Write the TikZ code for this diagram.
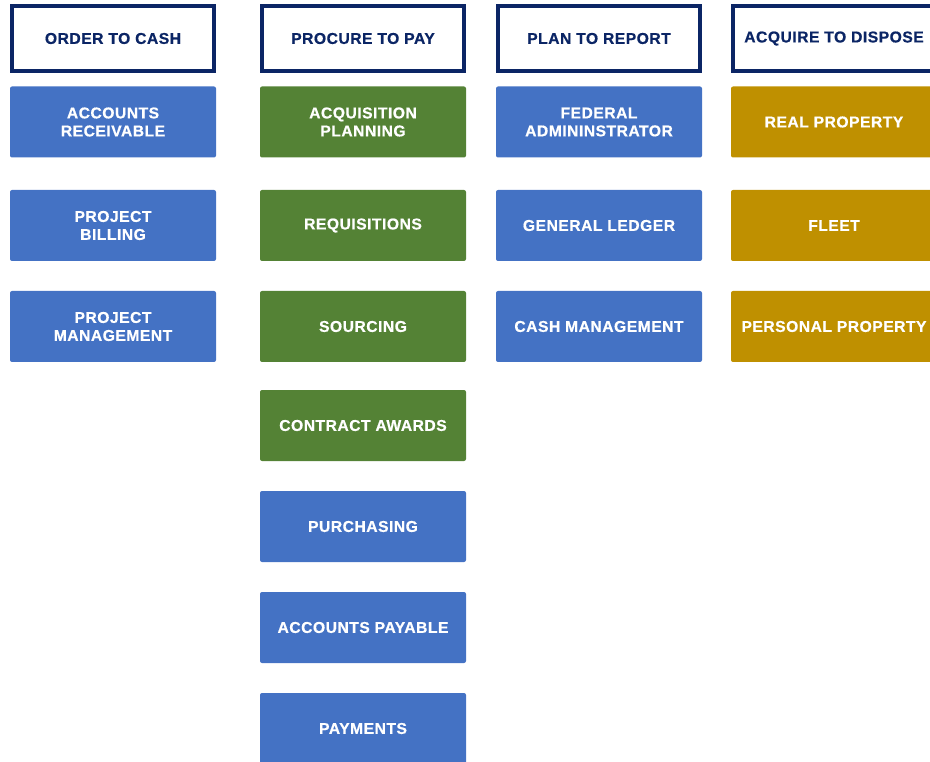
\documentclass[tikz,border=0pt]{standalone}
\usepackage{fontspec}
\setmainfont{Liberation Sans}[LetterSpace=3.0, BoldFeatures={FakeBold=0.6}]
\definecolor{navy}{HTML}{0B2565}
\definecolor{bluebox}{HTML}{4472C4}
\definecolor{greenbox}{HTML}{548235}
\definecolor{goldbox}{HTML}{BF9000}
\tikzset{
  hdr/.style={draw=navy, line width=4pt, fill=white, minimum width=202pt, minimum height=65pt,
    inner sep=0pt, align=center, text=navy, font=\fontsize{15.7pt}{18pt}\selectfont\bfseries},
  item/.style={rounded corners=2pt, minimum width=206pt, minimum height=71pt, inner sep=0pt,
    align=center, text=white, font=\fontsize{15.7pt}{18pt}\selectfont\bfseries},
  blueitem/.style={item, fill=bluebox},
  greenitem/.style={item, fill=greenbox},
  golditem/.style={item, fill=goldbox}
}
\begin{document}
\begin{tikzpicture}[x=1pt,y=-1pt]
\useasboundingbox (0,0) rectangle (930,762);
\clip (0,0) rectangle (930,762);
% headers
\node[hdr] (h1) at (113,38.5) {ORDER TO CASH};
\node[hdr] (h2) at (363,38.5) {PROCURE TO PAY};
\node[hdr] (h3) at (599,38.5) {PLAN TO REPORT};
\node[hdr] (h4) at (834,38.5) {ACQUIRE TO DISPOSE};
% column 1
\node[blueitem] (ar) at (113,122) {ACCOUNTS\\RECEIVABLE};
\node[blueitem] (pb) at (113,225.5) {PROJECT\\BILLING};
\node[blueitem] (pm) at (113,326.5) {PROJECT\\MANAGEMENT};
% column 2
\node[greenitem] (ap) at (363,122) {ACQUISITION\\PLANNING};
\node[greenitem] (rq) at (363,225.5) {REQUISITIONS};
\node[greenitem] (sr) at (363,326.5) {SOURCING};
\node[greenitem] (ca) at (363,425.5) {CONTRACT AWARDS};
\node[blueitem] (pu) at (363,526.5) {PURCHASING};
\node[blueitem] (apy) at (363,627.5) {ACCOUNTS PAYABLE};
\node[blueitem] (pay) at (363,728.5) {PAYMENTS};
% column 3
\node[blueitem] (fa) at (599,122) {FEDERAL\\ADMININSTRATOR};
\node[blueitem] (gl) at (599,225.5) {GENERAL LEDGER};
\node[blueitem] (cm) at (599,326.5) {CASH MANAGEMENT};
% column 4
\node[golditem] (rp) at (834,122) {REAL PROPERTY};
\node[golditem] (fl) at (834,225.5) {FLEET};
\node[golditem] (pp) at (834,326.5) {PERSONAL PROPERTY};
\end{tikzpicture}
\end{document}
